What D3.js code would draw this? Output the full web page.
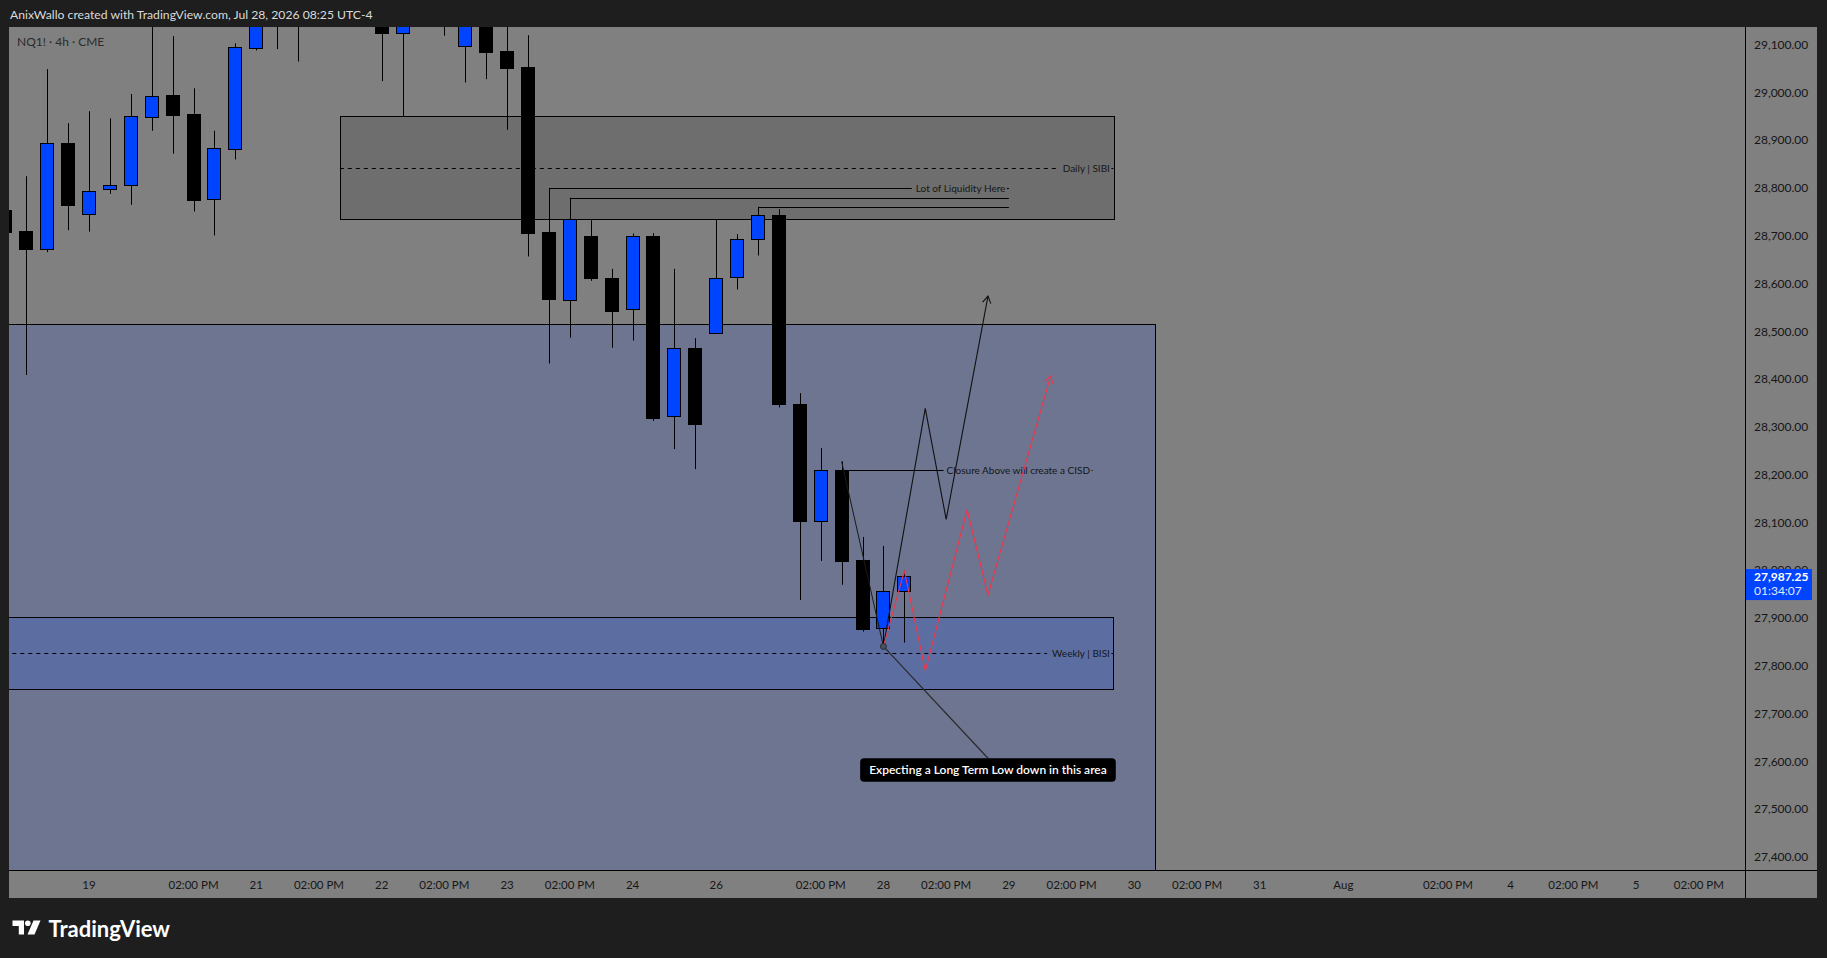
<!DOCTYPE html>
<html><head><meta charset="utf-8">
<script src="https://cdn.jsdelivr.net/npm/d3@7"></script>
<style>
html,body{margin:0;padding:0;background:#1e1e1e;overflow:hidden}
svg{display:block}
text{font-family:Lato,"Noto Sans",sans-serif}
</style></head><body>
<svg id="c" width="1827" height="958"></svg>
<script>
// ---------------- DATA ----------------
const headerText = "AnixWallo created with TradingView.com, Jul 28, 2026 08:25 UTC-4";
const symbolText = "NQ1! · 4h · CME";
const firstBar = -4; // bar index of first candle (0 = Jul 19 18:00 bar)
const opens  = [28753,28709,28672,28893,28743,28797,28805,28948,28993,28954,28776,28882,29093,29180,29215,29190,29230,29200,29170,29125,29160,29190,29098,29160,29086,29052,28707,28566,28699,28612,28546,28699,28321,28464,28497,28612,28692,28742,28347,28103,28209,28021,27879,27955];
const highs  = [28790,28824,29048,28935,28960,28945,28996,29160,29117,29008,28919,29102,29210,29240,29260,29280,29290,29240,29190,29200,29230,29210,29180,29175,29170,29119,28799,28779,28732,28630,28704,28705,28630,28485,28734,28703,28760,28755,28370,28255,28227,28069,28050,27998.5];
const lows   = [28690,28408,28665,28711,28708,28787,28764,28919,28871,28750,28700,28859,29087,29090,29064,29150,29160,29140,29023,28949,29145,29118,29020,29027,28921,28656,28432,28486,28605,28465,28480,28312,28253,28211,28495,28587,28658,28340,27937,28019,27969,27871,27839,27848];
const closes = [28708,28672,28893,28764,28792,28805,28949,28991,28952,28773,28882,29095,29180,29215,29190,29230,29200,29170,29124,29160,29190,29150,29160,29085,29051,28704,28566,28735,28612,28543,28698,28319,28464,28304,28612,28692,28742,28347,28103,28209,28019,27877,27956,27987.25];

const timeTickBars   = [0,5,8,11,14,17,20,23,26,30,35,38,41,44,47,50,53,56,60,65,68,71,74,77];
const timeTickLabels = ["19","02:00 PM","21","02:00 PM","22","02:00 PM","23","02:00 PM","24","26","02:00 PM","28","02:00 PM","29","02:00 PM","30","02:00 PM","31","Aug","02:00 PM","4","02:00 PM","5","02:00 PM"];
const priceTicks = [29100,29000,28900,28800,28700,28600,28500,28400,28300,28200,28100,28000,27900,27800,27700,27600,27500,27400];
const lastPrice = 27987.25;
const countdown = "01:34:07";

// zones: big discount area, Daily SIBI, Weekly BISI
const zoneStart  = [-14, 12, -14];
const zoneEnd    = [51, 49, 49];
const zoneTop    = [28514, 28949, 27901];
const zoneBottom = [26900, 28734, 27750];
const zoneLabels = ["", "Daily | SIBI", "Weekly | BISI"];

// liquidity lines
const liqBars   = [22, 23, 32];
const liqPrices = [28799, 28779, 28760];
const liqEndBar = 44;
const liqLabel  = "Lot of Liquidity Here";

// CISD line
const cisdBar = 36, cisdPrice = 28209, cisdEndBar = 48;
const cisdLabel = "Closure Above will create a CISD";

// trend line into the low
const trendBars = [36, 38];
const trendPrices = [28227, 27840];

// projected paths
const blackPathBars   = [38, 40, 41, 43];
const blackPathPrices = [27840, 28338, 28106, 28573];
const redPathBars     = [38, 39, 40, 42, 43, 46];
const redPathPrices   = [27840, 27998.5, 27789, 28125.5, 27948, 28406];

// callout
const calloutBars   = [38, 43];
const calloutPrices = [27840, 27606];
const calloutText   = "Expecting a Long Term Low down in this area";

// ---------------- LAYOUT ----------------
const paneL = 9, paneR = 1745, paneT = 27, paneB = 870, axisR = 1817, axisB = 898;
const C = {
  bg: "#808080", frame: "#1e1e1e", blue: "#0044ff",
  zones: ["#6d7591", "#6e6e6e", "#5c6ea1"], text: "#161616", red: "#f0364a"
};

const svg = d3.select("#c");
const x = d3.scaleLinear().domain([0, 77]).range([89, 1698.8]);
const y = d3.scaleLinear().domain([27400, 29100]).range([856.7, 44.3]);

svg.append("rect").attr("width", 1827).attr("height", 958).attr("fill", C.frame);
svg.append("rect").attr("x", paneL).attr("y", paneT).attr("width", axisR - paneL).attr("height", axisB - paneT).attr("fill", C.bg);

svg.append("text").attr("x", 10).attr("y", 14).attr("dominant-baseline", "central")
  .attr("fill", "#dadada").attr("font-size", 12.2).text(headerText);

const defs = svg.append("defs");
defs.append("clipPath").attr("id", "pane").append("rect")
  .attr("x", paneL).attr("y", paneT).attr("width", paneR - paneL).attr("height", paneB - paneT);
const g = svg.append("g").attr("clip-path", "url(#pane)");

// zones
zoneStart.forEach((s, i) => {
  g.append("rect")
    .attr("x", Math.round(x(s)) + 0.5).attr("y", Math.round(y(zoneTop[i])) + 0.5)
    .attr("width", Math.round(x(zoneEnd[i]) - x(s)))
    .attr("height", Math.round(y(zoneBottom[i]) - y(zoneTop[i])))
    .attr("fill", C.zones[i]).attr("stroke", "#000").attr("stroke-width", 1);
});

function lineWithLabel(x0, x1, yy, label, dash, gapL, padR) {
  const t = g.append("text").attr("x", x1 - padR).attr("y", yy).attr("text-anchor", "end")
    .attr("dominant-baseline", "central").attr("font-size", 10).attr("fill", C.text).text(label);
  const w = t.node().getComputedTextLength();
  const segs = [[x0, x1 - padR - w - gapL], [x1 - padR + 1.5, x1]];
  segs.forEach(s => {
    g.append("line").attr("x1", s[0]).attr("x2", s[1]).attr("y1", Math.round(yy) + 0.5).attr("y2", Math.round(yy) + 0.5)
      .attr("stroke", "#000").attr("stroke-width", 1).attr("stroke-dasharray", dash ? "4,4" : null);
  });
}

// zone mid dashed lines
[1, 2].forEach(i => {
  const mid = (zoneTop[i] + zoneBottom[i]) / 2;
  lineWithLabel(x(zoneStart[i]), x(zoneEnd[i]), y(mid), zoneLabels[i], true, 5, 3.5);
});

// liquidity lines
liqBars.forEach((b, i) => {
  if (i === 0) lineWithLabel(x(b), x(liqEndBar), y(liqPrices[i]), liqLabel, false, 4, 3.5);
  else g.append("line").attr("x1", x(b)).attr("x2", x(liqEndBar))
    .attr("y1", Math.round(y(liqPrices[i])) + 0.5).attr("y2", Math.round(y(liqPrices[i])) + 0.5)
    .attr("stroke", "#000");
});

// candles
const bars = opens.map((o, i) => ({i: firstBar + i, o, h: highs[i], l: lows[i], c: closes[i]}));
const cg = g.append("g");
bars.forEach(d => {
  const cx = Math.round(x(d.i)) + 0.5;
  cg.append("line").attr("x1", cx).attr("x2", cx).attr("y1", y(d.h)).attr("y2", y(d.l)).attr("stroke", "#000");
  const top = y(Math.max(d.o, d.c)), bot = y(Math.min(d.o, d.c));
  cg.append("rect").attr("x", Math.round(x(d.i)) - 6.5).attr("y", Math.round(top) + 0.5)
    .attr("width", 13).attr("height", Math.max(1, Math.round(bot - top)))
    .attr("fill", d.c >= d.o ? C.blue : "#000").attr("stroke", "#000");
});

// CISD line
lineWithLabel(x(cisdBar), x(cisdEndBar), y(cisdPrice), cisdLabel, false, 3, 2.5);

// trend line
g.append("line").attr("x1", x(trendBars[0])).attr("y1", y(trendPrices[0]))
  .attr("x2", x(trendBars[1])).attr("y2", y(trendPrices[1])).attr("stroke", "#1a1a1a").attr("stroke-width", 1);

const line = d3.line().x(d => x(d[0])).y(d => y(d[1]));
function pathWithArrow(bs, ps, color) {
  const pts = bs.map((b, i) => [b, ps[i]]);
  g.append("path").attr("d", line(pts)).attr("fill", "none").attr("stroke", color).attr("stroke-width", 1.1);
  const n = pts.length;
  const ex = x(pts[n-1][0]), ey = y(pts[n-1][1]), sx = x(pts[n-2][0]), sy = y(pts[n-2][1]);
  const a = Math.atan2(ey - sy, ex - sx), L = 8, sp = 0.55;
  const p1 = [ex - L*Math.cos(a - sp), ey - L*Math.sin(a - sp)];
  const p2 = [ex - L*Math.cos(a + sp), ey - L*Math.sin(a + sp)];
  g.append("path").attr("d", `M${p1}L${ex},${ey}L${p2}`).attr("fill", "none").attr("stroke", color).attr("stroke-width", 1.1);
}
pathWithArrow(blackPathBars, blackPathPrices, "#111");
pathWithArrow(redPathBars, redPathPrices, C.red);

// callout
const ax = x(calloutBars[0]), ay = y(calloutPrices[0]);
const bx = x(calloutBars[1]), by = y(calloutPrices[1]);
g.append("line").attr("x1", ax).attr("y1", ay).attr("x2", bx).attr("y2", by).attr("stroke", "#2a2a2a").attr("stroke-width", 1.2);
g.append("circle").attr("cx", ax).attr("cy", ay).attr("r", 3).attr("fill", "#4a4f60").attr("stroke", "#2a2a2a");
const ct = g.append("text").attr("x", bx).attr("y", by + 11.7).attr("text-anchor", "middle")
  .attr("dominant-baseline", "central").attr("font-size", 12).attr("font-weight", 600).attr("fill", "#fff").text(calloutText);
const cw = ct.node().getComputedTextLength() + 18;
g.insert("rect", "text:last-child").attr("x", bx - cw/2).attr("y", by).attr("width", cw).attr("height", 23.4)
  .attr("rx", 4).attr("fill", "#000");
ct.raise();

// symbol
svg.append("text").attr("x", 17).attr("y", 41.5).attr("dominant-baseline", "central")
  .attr("font-size", 12).attr("fill", "#2b2b2b").text(symbolText);

// axes separators
svg.append("line").attr("x1", paneR + 0.5).attr("x2", paneR + 0.5).attr("y1", paneT).attr("y2", axisB).attr("stroke", "#000");
svg.append("line").attr("x1", paneL).attr("x2", axisR).attr("y1", paneB + 0.5).attr("y2", paneB + 0.5).attr("stroke", "#000");

// price axis
const pa = svg.append("g");
priceTicks.forEach(p => {
  pa.append("text").attr("x", 1754).attr("y", y(p)).attr("dominant-baseline", "central")
    .attr("font-size", 12).attr("fill", C.text).text(d3.format(",.2f")(p));
});
const ly = y(lastPrice);
pa.append("rect").attr("x", paneR + 1).attr("y", ly - 7).attr("width", 66).attr("height", 31).attr("fill", C.blue);
pa.append("text").attr("x", 1754).attr("y", ly + 0.8).attr("dominant-baseline", "central")
  .attr("font-size", 12).attr("font-weight", 700).attr("fill", "#fff").text(d3.format(",.2f")(lastPrice));
pa.append("text").attr("x", 1754).attr("y", ly + 14).attr("dominant-baseline", "central")
  .attr("font-size", 12).attr("fill", "#e4e9ff").text(countdown);

// time axis
timeTickBars.forEach((b, i) => {
  svg.append("text").attr("x", x(b)).attr("y", 884).attr("text-anchor", "middle").attr("dominant-baseline", "central")
    .attr("font-size", 11.5).attr("fill", C.text).text(timeTickLabels[i]);
});

// TradingView logo
const lg = svg.append("g").attr("fill", "#fff");
lg.append("path").attr("d", "M12.5,920.5h11.5v14h-5.2v-8.6h-6.3z");
lg.append("circle").attr("cx", 27.8).attr("cy", 923.3).attr("r", 2.8);
lg.append("path").attr("d", "M33.5,920.5h7l-6,14h-7z");
svg.append("text").attr("x", 48.5).attr("y", 928).attr("dominant-baseline", "central")
  .attr("font-size", 22).attr("font-weight", 700).attr("fill", "#fff").text("TradingView");
</script>
</body></html>
